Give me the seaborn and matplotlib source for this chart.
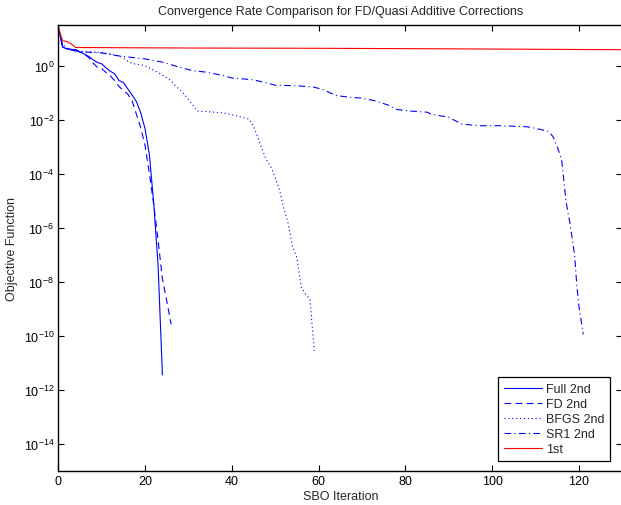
import numpy as np
import pandas as pd
import matplotlib
matplotlib.use("Agg")
import matplotlib.pyplot as plt
import matplotlib.ticker as mticker
from matplotlib.lines import Line2D
import seaborn as sns

# Objective-function history per SBO iteration for each correction scheme
full_iter = [0, 1, 2, 3, 4, 5, 6, 7, 8, 9, 10, 11, 12, 13, 14, 15, 16, 17, 18, 19, 20, 21, 22, 23, 24]
full_obj = [26, 4.8, 4.2, 4.0, 3.9, 3.2, 2.7, 2.2, 1.66, 1.32, 1.17, 0.83, 0.62, 0.50, 0.28,
            0.24, 0.14, 0.083, 0.047, 0.018, 4.6e-3, 5.0e-4, 7.9e-6, 4.0e-8, 3.6e-12]

fd_iter = [0, 1, 2, 3, 4, 5, 6, 7, 8, 9, 10, 11, 12, 13, 14, 15, 16, 17, 18, 19, 20, 21, 22, 23, 24, 25, 26]
fd_obj = [26, 4.8, 4.2, 4.0, 3.9, 3.2, 2.7, 2.0, 1.26, 0.87, 0.79, 0.56, 0.42, 0.28, 0.17,
          0.12, 0.089, 0.050, 0.016, 5.0e-3, 1.1e-3, 1.0e-4, 7.1e-6, 3.5e-7, 1.26e-8,
          2.0e-9, 2.7e-10]

bfgs_iter = [0, 1, 2, 3, 5, 10, 12, 14, 17, 20, 23, 26, 27, 29, 31, 32, 34, 38, 41, 44,
             45, 46, 47, 48, 49, 50, 51, 52, 53, 54, 55, 56, 57, 58, 59]
bfgs_obj = [26, 6.0, 4.5, 3.8, 3.3, 3.1, 2.75, 2.3, 1.2, 1.0, 0.56, 0.28, 0.18, 0.089,
            0.035, 0.021, 0.020, 0.018, 0.014, 0.0105, 5.6e-3, 2.2e-3, 7.9e-4, 3.2e-4,
            1.8e-4, 7.1e-5, 2.5e-5, 5.0e-6, 1.4e-6, 2.0e-7, 7.9e-8, 6.3e-9, 3.5e-9,
            2.3e-9, 2.8e-11]

sr1_iter = [0, 1, 2, 3, 4, 6, 10, 13, 16, 20, 24, 28, 31, 34, 38, 40, 45, 48, 50, 55, 59,
            61, 64, 67, 70, 73, 76, 78, 81, 85, 86, 90, 93, 97, 102, 108, 110, 113, 114,
            115, 116, 116.5, 117, 118, 119, 119.5, 120, 121]
sr1_obj = [26, 5.0, 4.2, 3.8, 3.5, 3.2, 2.95, 2.4, 2.1, 1.78, 1.35, 0.87, 0.65, 0.58,
           0.43, 0.35, 0.30, 0.23, 0.19, 0.18, 0.16, 0.13, 0.079, 0.068, 0.063, 0.050,
           0.035, 0.024, 0.021, 0.019, 0.016, 0.0123, 6.9e-3, 6.0e-3, 6.0e-3, 5.5e-3,
           4.8e-3, 3.7e-3, 2.4e-3, 1.0e-3, 3.5e-4, 6.3e-5, 1.0e-5, 1.26e-6, 1.0e-7,
           7.9e-9, 1.26e-9, 1.15e-10]

first_iter = [0, 1, 2, 3, 4, 30, 60, 90, 130]
first_obj = [26, 8.3, 7.9, 6.3, 4.7, 4.5, 4.4, 4.2, 3.9]

labels = ["Full 2nd", "FD 2nd", "BFGS 2nd", "SR1 2nd", "1st"]
x_ticks = [0, 20, 40, 60, 80, 100, 120]
y_exponents = [-14, -12, -10, -8, -6, -4, -2, 0]

series = [(full_iter, full_obj), (fd_iter, fd_obj), (bfgs_iter, bfgs_obj),
          (sr1_iter, sr1_obj), (first_iter, first_obj)]
df = pd.concat(
    [pd.DataFrame({"iteration": it, "objective": ob, "method": name})
     for name, (it, ob) in zip(labels, series)],
    ignore_index=True,
)

sns.set_style("white")
plt.rcParams["font.family"] = ["Liberation Sans", "DejaVu Sans"]
plt.rcParams["mathtext.fontset"] = "custom"
plt.rcParams["mathtext.rm"] = "Liberation Sans"
plt.rcParams["mathtext.it"] = "Liberation Sans:italic"
plt.rcParams["mathtext.bf"] = "Liberation Sans:bold"

fs = 9.0
lw = 0.8
fig = plt.figure(figsize=(6.21, 5.06), dpi=100)
ax = fig.add_axes([58.3 / 621, 34 / 506, 564 / 621, 446 / 506])

palette = {"Full 2nd": "#0000ff", "FD 2nd": "#0000ff", "BFGS 2nd": "#0000ff",
           "SR1 2nd": "#0000ff", "1st": "#ff0000"}
dashes = {"Full 2nd": "", "FD 2nd": (6, 4), "BFGS 2nd": (1, 2.5),
          "SR1 2nd": (6, 3, 1, 3), "1st": ""}

sns.lineplot(data=df, x="iteration", y="objective", hue="method", style="method",
             hue_order=labels, style_order=labels, palette=palette, dashes=dashes,
             estimator=None, sort=False, linewidth=lw, ax=ax, legend=False)

ax.set_yscale("log")
ax.set_xlim(0, 130)
ax.set_ylim(1e-15, 32)
ax.xaxis.set_major_locator(mticker.FixedLocator(x_ticks))
ax.yaxis.set_major_locator(mticker.FixedLocator([10.0 ** e for e in y_exponents]))
ax.yaxis.set_major_formatter(mticker.LogFormatterMathtext())
ax.yaxis.set_minor_locator(mticker.NullLocator())

for side in ["top", "right", "bottom", "left"]:
    ax.spines[side].set_visible(True)
    ax.spines[side].set_color("black")
    ax.spines[side].set_linewidth(1.0)
ax.tick_params(axis="both", which="major", direction="in", length=4, width=0.8,
               top=True, right=True, bottom=True, left=True,
               labelsize=fs, colors="black", pad=3)

ax.set_xlabel("SBO Iteration", fontsize=fs, labelpad=2)
ax.set_ylabel("Objective Function", fontsize=fs, labelpad=4)
ax.set_title("Convergence Rate Comparison for FD/Quasi Additive Corrections",
             fontsize=fs, pad=8)

handles = []
for name in labels:
    d = dashes[name]
    ls = "-" if d == "" else (0, d)
    handles.append(Line2D([], [], color=palette[name], linestyle=ls, linewidth=lw))
leg = ax.legend(handles, labels, loc="lower right", fontsize=fs, frameon=True,
                fancybox=False, edgecolor="black", framealpha=1,
                bbox_to_anchor=(610 / 621, 44 / 506), bbox_transform=fig.transFigure,
                borderaxespad=0, handlelength=3.0, handletextpad=0.35,
                labelspacing=0.25, borderpad=0.45)
leg.get_frame().set_linewidth(0.9)

fig.savefig("out.png", dpi=100)
